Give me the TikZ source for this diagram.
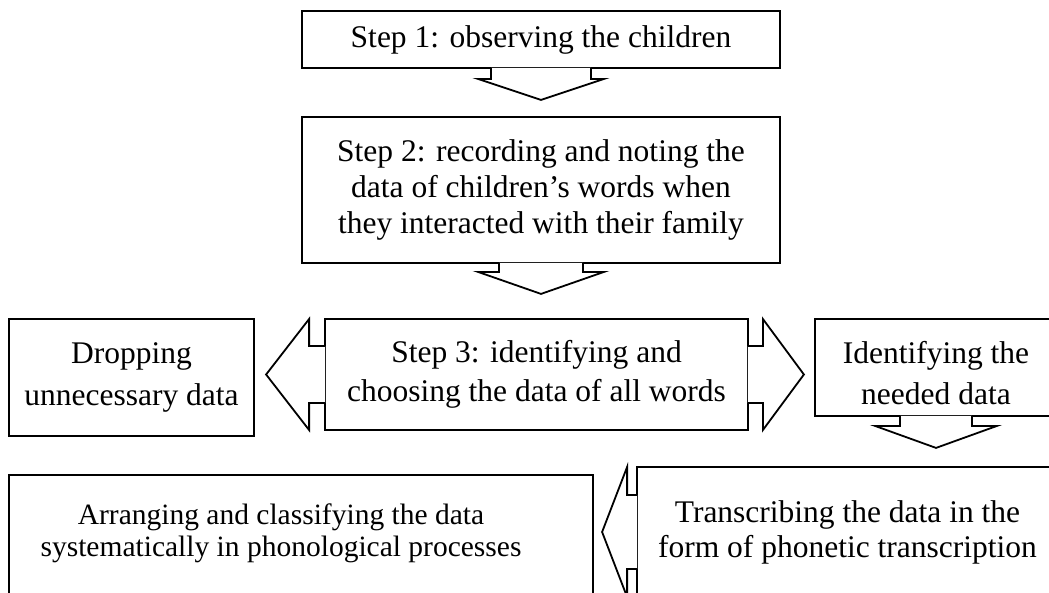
\documentclass[tikz,border=0pt]{standalone}
\usepackage{fontspec}
\setmainfont{Liberation Serif}

\tikzset{
  stepbox/.style={draw, line width=1.8pt, align=center, inner sep=0pt,
    font=\fontsize{31.5}{36}\selectfont},
  linepitch/.style={font=\fontsize{31.5}{#1}\selectfont},
  callout/.style={draw, fill=white, line width=1.8pt, line join=miter},
}

% arrow part of a callout box: anchor, stem half width, stem length, wing half width, head length
\newcommand{\calloutdown}[5]{%
  \filldraw[callout] (#1) ++(-#2,-1) -- ++(0,{#3+1}) -- ++({#2-#4},0)
    -- ++(#4,#5) -- ++(#4,-#5) -- ++({#2-#4},0) -- ++(0,{-#3-1});}
\newcommand{\calloutleft}[5]{%
  \filldraw[callout] (#1) ++(1,-#2) -- ++({-#3-1},0) -- ++(0,{#2-#4})
    -- ++(-#5,#4) -- ++(#5,#4) -- ++(0,{#2-#4}) -- ++({#3+1},0);}
\newcommand{\calloutright}[5]{%
  \filldraw[callout] (#1) ++(-1,-#2) -- ++({#3+1},0) -- ++(0,{#2-#4})
    -- ++(#5,#4) -- ++(-#5,#4) -- ++(0,{#2-#4}) -- ++({-#3-1},0);}

\begin{document}
\begin{tikzpicture}[x=1pt, y=-1pt]
\useasboundingbox (0,0) rectangle (1049,592);

% boxes
\node[stepbox, minimum width=478pt, minimum height=57pt] (observe) at (541,39.5)
  {Step 1: observing the children};
\node[stepbox, minimum width=478pt, minimum height=146pt] (record) at (541,190)
  {Step 2: recording and noting the\\ data of children's words when\\ they interacted with their family};
\node[stepbox, linepitch=39, minimum width=423pt, minimum height=111pt] (choose) at (536.5,374.5)
  {Step 3: identifying and\\ choosing the data of all words};
\node[stepbox, linepitch=42, minimum width=245pt, minimum height=117pt] (drop) at (131.5,377.5)
  {Dropping\\ unnecessary data};
\node[stepbox, linepitch=41, minimum width=242pt, minimum height=97pt] (needed) at (936,367.5)
  {\\[-8pt]Identifying the\\ needed data};
\node[stepbox, linepitch=35, minimum width=421pt, minimum height=130pt] (transcribe) at (847.5,532)
  {Transcribing the data in the\\ form of phonetic transcription};
\node[stepbox, minimum width=584pt, minimum height=120pt] (arrange) at (301,535) {};
\node[align=center, font=\fontsize{29.5}{32}\selectfont] (arrangetext) at (281,533)
  {Arranging and classifying the data\\ systematically in phonological processes};

% arrows of the callouts
\calloutdown{observe.south}{50}{10}{63}{21}
\calloutdown{record.south}{42}{8}{63}{22}
\calloutleft{choose.west}{28.5}{15}{55.5}{43}
\calloutright{choose.east}{28.5}{14}{55.5}{41}
\calloutdown{needed.south}{36}{9}{61}{22}
\calloutleft{transcribe.west}{37}{9}{65}{25}
\end{tikzpicture}
\end{document}
